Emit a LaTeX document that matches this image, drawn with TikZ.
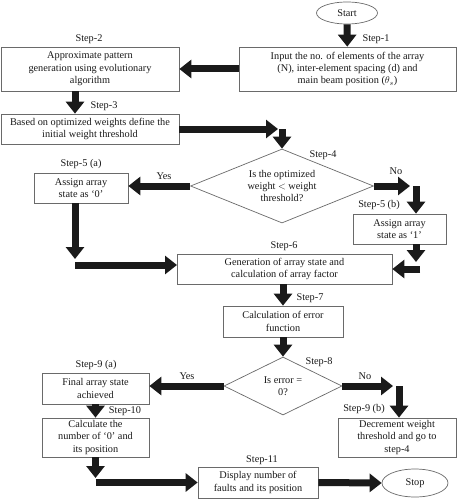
\documentclass[tikz,border=0pt]{standalone}
\usepackage{fontspec}
\setmainfont{Liberation Serif}
\usetikzlibrary{shapes.geometric,arrows.meta}
\definecolor{ink}{HTML}{1A1A1A}
\definecolor{edge}{HTML}{6A6A6A}
\begin{document}
\begin{tikzpicture}[x=1pt,y=-1pt,
  font=\fontsize{10.3}{12.4}\selectfont, text=ink,
  boxnode/.style={draw=edge,line width=0.7pt,rectangle,align=center,inner sep=0pt},
  ellnode/.style={draw=edge,line width=0.7pt,ellipse,inner sep=0pt},
  diam/.style={draw=edge,line width=0.7pt,diamond,inner sep=0pt},
  fat/.style={draw=ink,line width=7pt,-{Triangle[width=18pt,length=12pt]}},
  lbl/.style={inner sep=0pt}]
\useasboundingbox (0,0) rectangle (457,500);
\fill[white] (0,0) rectangle (457,500);

% nodes
\node[ellnode,minimum width=61pt,minimum height=22pt] (start) at (347,13) {Start};
\node[boxnode,minimum width=217pt,minimum height=44pt] (b1) at (347.5,69)
  {Input the no. of elements of the array\\(N), inter-element spacing (d) and\\main beam position ($\theta_s$)};
\node[boxnode,minimum width=178pt,minimum height=44pt] (b2) at (90,69)
  {Approximate pattern\\generation using evolutionary\\algorithm};
\node[boxnode,minimum width=178pt,minimum height=30pt] (b3) at (90,129)
  {Based on optimized weights define the\\initial weight threshold};
\node[diam,minimum width=183pt,minimum height=74pt] (d1) at (282,186) {};
\node[lbl,align=center] (d1t) at (d1.center) {Is the optimized\\weight $<$ weight\\threshold?};
\node[boxnode,minimum width=94pt,minimum height=30pt] (b5a) at (81,188)
  {Assign array\\state as ‘0’};
\node[boxnode,minimum width=93pt,minimum height=30pt] (b5b) at (399.5,229)
  {Assign array\\state as ‘1’};
\node[boxnode,minimum width=215pt,minimum height=30pt] (b6) at (284.5,269)
  {Generation of array state and\\calculation of array factor};
\node[boxnode,minimum width=120pt,minimum height=31pt] (b7) at (283,321.5)
  {Calculation of error\\function};
\node[diam,minimum width=118pt,minimum height=58pt] (d2) at (283,386) {};
\node[lbl,align=center] (d2t) at (d2.center) {Is error =\\0?};
\node[boxnode,minimum width=107pt,minimum height=31pt] (b9a) at (95.5,388.5)
  {Final array state\\achieved};
\node[boxnode,minimum width=118pt,minimum height=39pt] (b9b) at (397,437.5)
  {Decrement weight\\threshold and go to\\step-4};
\node[boxnode,minimum width=107pt,minimum height=39pt] (b10) at (95.5,437.5)
  {Calculate the\\number of ‘0’ and\\its position};
\node[boxnode,minimum width=120pt,minimum height=31pt] (b11) at (258,482.5)
  {Display number of\\faults and its position};
\node[ellnode,minimum width=66pt,minimum height=28pt] (stop) at (415,483) {Stop};

% labels
\node[lbl] (s1) at (376,39) {Step-1};
\node[lbl] (s2) at (89,39) {Step-2};
\node[lbl] (s3) at (104,106) {Step-3};
\node[lbl] (s4) at (323,155) {Step-4};
\node[lbl] (s5a) at (81,164) {Step-5 (a)};
\node[lbl] (y1) at (164,176) {Yes};
\node[lbl] (n1) at (396,171) {No};
\node[lbl] (s5b) at (379,205) {Step-5 (b)};
\node[lbl] (s6) at (284,246) {Step-6};
\node[lbl] (s7) at (310,298) {Step-7};
\node[lbl] (s8) at (319,362) {Step-8};
\node[lbl] (s9a) at (96,365) {Step-9 (a)};
\node[lbl] (y2) at (187,376) {Yes};
\node[lbl] (n2) at (365,376) {No};
\node[lbl] (s9b) at (364,409) {Step-9 (b)};
\node[lbl] (s10) at (125,411) {Step-10};
\node[lbl] (s11) at (262,460) {Step-11};

% elbow coordinates
\coordinate (k1) at (278,129);
\coordinate (k1b) at (282,129);
\coordinate (k2) at (410,186);
\coordinate (k2b) at (416,186);
\coordinate (k3) at (75,259);
\coordinate (k3b) at (75,265);
\coordinate (k3c) at (177,265);
\coordinate (k4a) at (416,244);
\coordinate (k4) at (416,262);
\coordinate (k4b) at (420,269);
\coordinate (k5) at (393,386);
\coordinate (k5b) at (399,386);
\coordinate (k6) at (95.5,478);
\coordinate (k6b) at (95.5,482.5);

% connectors
\draw[fat] (start) -- (b1);
\draw[fat] (b1.west) -- (b2.east);
\draw[fat] ([xshift=-15pt]b2.south) -- ([xshift=-15pt]b3.north);
\draw[fat] (b3.east) -- (k1);
\draw[fat] (k1b) -- (d1.north);
\draw[fat] (d1.west) -- (d1.west -| b5a.east);
\draw[fat] (d1.east) -- (k2);
\draw[fat] (k2b) -- (k2b |- b5b.north);
\draw[fat] (b5a.south -| k3) -- (k3);
\draw[fat] (k3b) -- (k3c);
\draw[fat] (k4a) -- (k4);
\draw[fat] (k4b) -- (b6.east);
\draw[fat] (b6.south -| b7.north) -- (b7.north);
\draw[fat] (b7.south) -- (d2.north);
\draw[fat] (d2.west) -- (d2.west -| b9a.east);
\draw[fat] (d2.east) -- (k5);
\draw[fat] (k5b) -- (k5b |- b9b.north);
\draw[fat] (b9a.south) -- (b10.north);
\draw[fat] (b10.south) -- (k6);
\draw[fat] (k6b) -- (b11.west);
\draw[fat] (b11.east) -- (stop.west);
\end{tikzpicture}
\end{document}
